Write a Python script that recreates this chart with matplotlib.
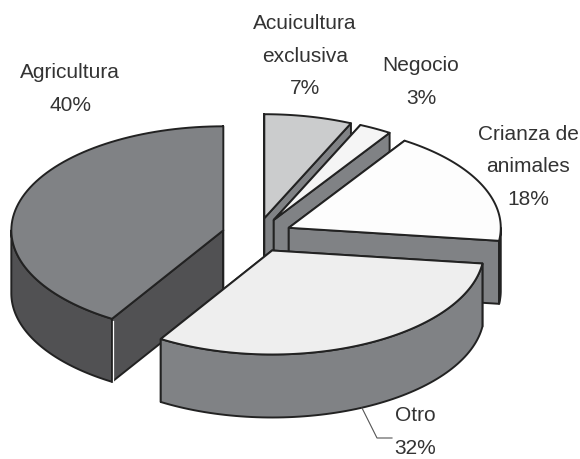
import numpy as np
import matplotlib
matplotlib.use("Agg")
import matplotlib.pyplot as plt
from matplotlib.patches import Polygon

plt.rcParams['font.family'] = ['Liberation Sans', 'DejaVu Sans']

# slice shares as measured on the drawing, the printed labels are rounded by the source
categories = ["Acuicultura\nexclusiva", "Negocio", "Crianza de\nanimales", "Otro", "Agricultura"]
shares = [6.7, 2.5, 17.8, 31.8, 41.2]
pct_labels = ["7%", "3%", "18%", "32%", "40%"]
top_colors = ["#cbcccd", "#f5f5f5", "#fdfdfd", "#eeeeee", "#808285"]
side_colors = ["#808285", "#808285", "#808285", "#808285", "#515153"]
label_x = [305, 421, 528, 415, 70]
label_y = [56, 82, 167, 432, 89]
draw_order = [0, 1, 2, 4, 3]

center_x, center_y = 257, 236
radius_x, radius_y = 212, 104
explode = 35 / 212
depth = 63
edge = "#222222"


def rim(apex_x, apex_y, t0, t1):
    t = np.radians(np.linspace(t0, t1, 80))
    return apex_x + radius_x * np.sin(t), apex_y - radius_y * np.cos(t)


def add_poly(ax, x, y, color):
    ax.add_patch(Polygon(np.column_stack([x, y]), closed=True, facecolor=color,
                         edgecolor=edge, linewidth=1.4, joinstyle="round"))


fig = plt.figure(figsize=(5.8, 4.6), dpi=100)
ax = fig.add_axes([0, 0, 1, 1])
ax.set_xlim(0, 580)
ax.set_ylim(460, 0)
ax.axis("off")

# angles run clockwise from 12 o'clock
ends = np.cumsum(shares) / np.sum(shares) * 360
starts = np.concatenate([[0], ends[:-1]])

for i in draw_order:
    t0, t1 = starts[i], ends[i]
    mid = np.radians((t0 + t1) / 2)
    ox = center_x + explode * radius_x * np.sin(mid)
    oy = center_y - explode * radius_y * np.cos(mid)
    rx, ry = rim(ox, oy, t0, t1)

    # the two cut faces, then the outer wall, then the top hides what it should
    for px, py in [(rx[0], ry[0]), (rx[-1], ry[-1])]:
        add_poly(ax, [ox, px, px, ox], [oy, py, py + depth, oy + depth], side_colors[i])

    lo, hi = max(t0, 90), min(t1, 270)
    if lo < hi:
        wx, wy = rim(ox, oy, lo, hi)
        add_poly(ax, np.r_[wx, wx[::-1]], np.r_[wy, wy[::-1] + depth], side_colors[i])

    add_poly(ax, np.r_[ox, rx], np.r_[oy, ry], top_colors[i])

    # thin light seam on the dark slice's front corner
    if categories[i] == "Agricultura":
        ax.plot([rx[0] + 1.2, rx[0] + 1.2], [ry[0] + 2, ry[0] + depth - 1], color="white", lw=0.9)

for name, pct, x, y in zip(categories, pct_labels, label_x, label_y):
    ax.text(x, y, name + "\n" + pct, ha="center", va="center", fontsize=15,
            color="#333333", linespacing=1.92)

# leader line for Otro
ax.plot([362, 377, 392], [409, 439, 439], color="#555555", lw=0.8)

plt.savefig("out.png", dpi=100, facecolor="white")
plt.close()
